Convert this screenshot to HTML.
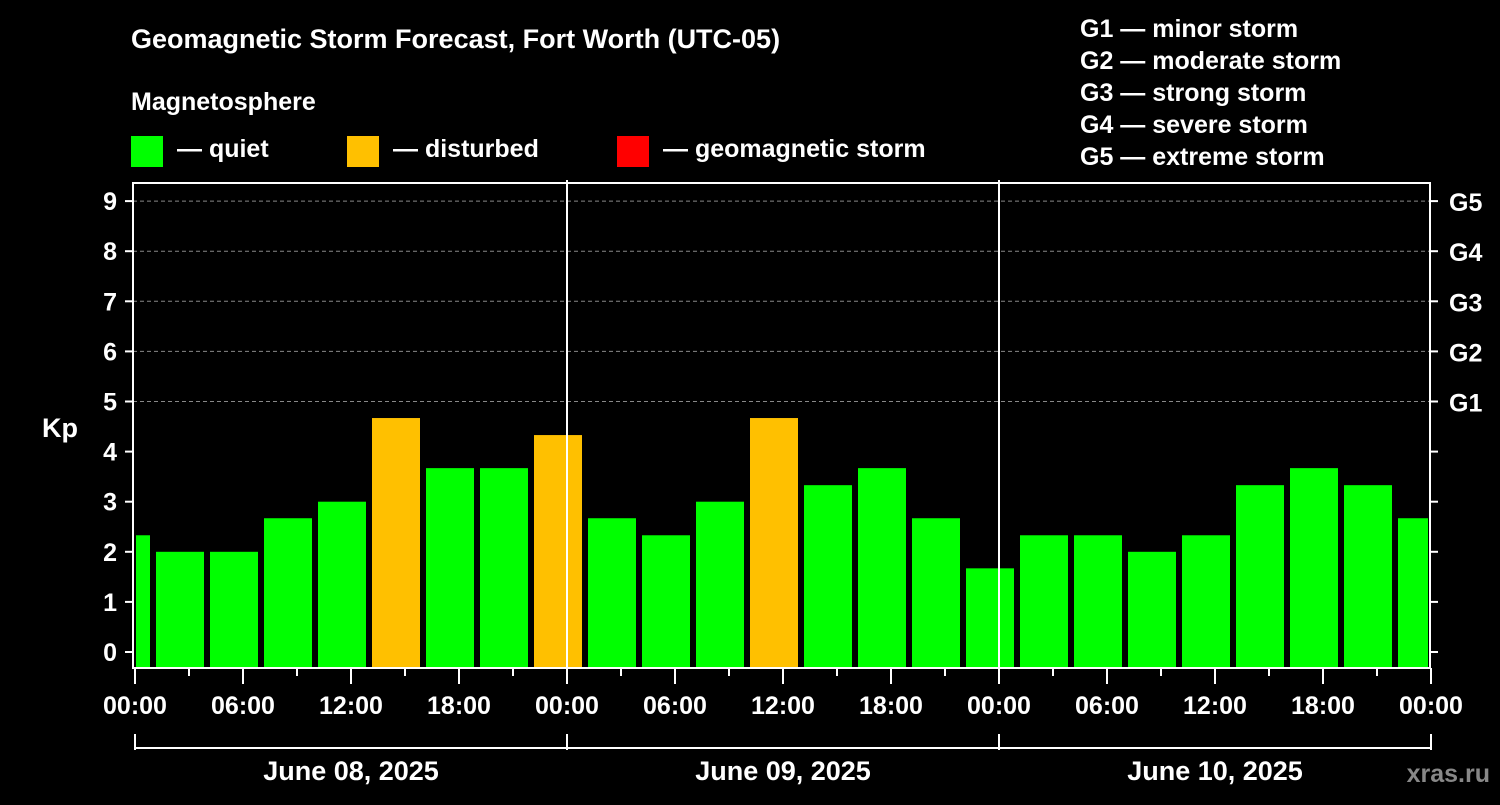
<!DOCTYPE html>
<html><head><meta charset="utf-8"><style>
body{margin:0;background:#000;width:1500px;height:800px;overflow:hidden}
svg text{font-family:"Liberation Sans",sans-serif;font-weight:bold;fill:#fff}
</style></head><body>
<svg id="chart" width="1500" height="800">
<text x="131" y="48" font-size="27">Geomagnetic Storm Forecast, Fort Worth (UTC-05)</text>
<text x="131" y="110" font-size="25">Magnetosphere</text>
<g><rect x="131" y="136" width="32" height="31" fill="#00ff00"/><text x="177" y="157" font-size="25">— quiet</text></g>
<g><rect x="347" y="136" width="32" height="31" fill="#ffc000"/><text x="393" y="157" font-size="25">— disturbed</text></g>
<g><rect x="617" y="136" width="32" height="31" fill="#ff0000"/><text x="663" y="157" font-size="25">— geomagnetic storm</text></g>
<g font-size="25">
<text x="1080" y="37">G1 — minor storm</text><text x="1080" y="69">G2 — moderate storm</text><text x="1080" y="101">G3 — strong storm</text><text x="1080" y="133">G4 — severe storm</text><text x="1080" y="165">G5 — extreme storm</text></g>
<text x="42" y="437" font-size="27">Kp</text>
<text x="1490" y="782" font-size="25" text-anchor="end" style="fill:#888">xras.ru</text>
<g id="plot"></g>
</svg>
<script>
const kpValues=[2.33,2,2,2.67,3,4.67,3.67,3.67,4.33,2.67,2.33,3,4.67,3.33,3.67,2.67,1.67,2.33,2.33,2,2.33,3.33,3.67,3.33,2.67];
const barStartHour=-0.5;
const yTicks=[0,1,2,3,4,5,6,7,8,9];
const gLabels=["G1","G2","G3","G4","G5"];
const xLabels=["00:00","06:00","12:00","18:00","00:00","06:00","12:00","18:00","00:00","06:00","12:00","18:00","00:00"];
const dayLabels=["June 08, 2025","June 09, 2025","June 10, 2025"];
const L=133,R=1430,T=183,B=668;
const x=h=>135+h*18;
const y=v=>652-v*50.1;
const g=document.getElementById('plot');
const NS='http://www.w3.org/2000/svg';
function mk(t,a){const e=document.createElementNS(NS,t);for(const k in a)e.setAttribute(k,a[k]);g.appendChild(e);return e;}
// grid
yTicks.filter(v=>v>=5).forEach(v=>{const e=mk('line',{x1:L,x2:R,y1:y(v),y2:y(v),stroke:'#888','stroke-dasharray':'4,3'});

});
// bars
kpValues.forEach((v,i)=>{const c=barStartHour+3*i;let x0=x(c-1.5)+3,x1=x(c+1.5)-3;x0=Math.max(x0,L+3);x1=Math.min(x1,R-2);
const e=mk('rect',{x:x0,y:y(v),width:x1-x0,height:B-y(v),fill:v>=4?'#ffc000':'#00ff00'});

});
// axes
mk('rect',{x:L,y:T,width:R-L,height:B-T,fill:'none',stroke:'#fff','stroke-width':2});
[1,2].forEach(d=>mk('line',{x1:x(24*d),x2:x(24*d),y1:180,y2:B,stroke:'#fff','stroke-width':2}));
yTicks.forEach(v=>{mk('line',{x1:L-8,x2:L,y1:y(v),y2:y(v),stroke:'#fff','stroke-width':2});
mk('line',{x1:R,x2:R+8,y1:y(v),y2:y(v),stroke:'#fff','stroke-width':2});
const t=mk('text',{x:117,y:y(v)+9,'font-size':25,'text-anchor':'end'});t.textContent=v;

});
gLabels.forEach((s,i)=>{const t=mk('text',{x:1449,y:y(5+i)+10,'font-size':25});t.textContent=s;

});
for(let h=0;h<=72;h+=3){mk('line',{x1:x(h),x2:x(h),y1:B,y2:B+(h%6?8:16),stroke:'#fff','stroke-width':2});}
xLabels.forEach((s,i)=>{const t=mk('text',{x:x(i*6),y:714,'font-size':25,'text-anchor':'middle'});t.textContent=s;

});
mk('line',{x1:x(0),x2:x(72),y1:748,y2:748,stroke:'#fff','stroke-width':2});
[0,1,2,3].forEach(d=>mk('line',{x1:x(24*d),x2:x(24*d),y1:734,y2:750,stroke:'#fff','stroke-width':2}));
dayLabels.forEach((s,i)=>{const t=mk('text',{x:x(24*i+12),y:780,'font-size':27,'text-anchor':'middle'});t.textContent=s;

});
</script>
</body></html>
